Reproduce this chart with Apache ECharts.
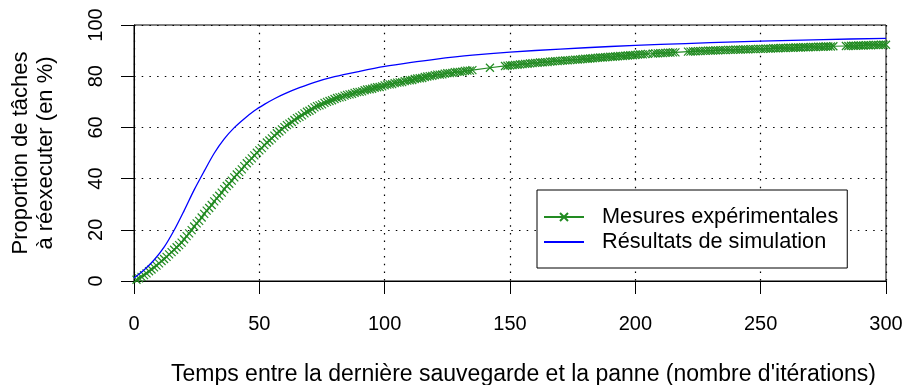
<!DOCTYPE html>
<html>
<head>
<meta charset="utf-8">
<script src="https://cdn.jsdelivr.net/npm/echarts@6/dist/echarts.min.js"></script>
<style>
  html, body { margin: 0; padding: 0; background: #fff; }
  #chart { width: 907px; height: 385px; }
</style>
</head>
<body>
<div id="chart"></div>
<script>
// Measured share of tasks to re-execute vs. iterations since last checkpoint
const mesuresX = [
  1, 2, 3, 4, 5, 6, 7, 8, 9, 10, 11, 12, 13, 14, 15, 16, 17, 18, 19, 20,
  21, 22, 23, 24, 25, 26, 27, 28, 29, 30, 31, 32, 33, 34, 35, 36, 37, 38, 39, 40,
  41, 42, 43, 44, 45, 46, 47, 48, 49, 50, 51, 52, 53, 54, 55, 56, 57, 58, 59, 60,
  61, 62, 63, 64, 65, 66, 67, 68, 69, 70, 71, 72, 73, 74, 75, 76, 77, 78, 79, 80,
  81, 82, 83, 84, 85, 86, 87, 88, 89, 90, 91, 92, 93, 94, 95, 96, 97, 98, 99, 100,
  101, 102, 103, 104, 105, 106, 107, 108, 109, 110, 111, 112, 113, 114, 115, 116, 117, 118, 119, 120,
  121, 122, 123, 124, 125, 126, 127, 128, 129, 130, 131, 132, 133, 134, 135, 142, 148, 149, 150, 151,
  152, 153, 154, 155, 156, 157, 158, 159, 160, 161, 162, 163, 164, 165, 166, 167, 168, 169, 170, 171,
  172, 173, 174, 175, 176, 177, 178, 179, 180, 181, 182, 183, 184, 185, 186, 187, 188, 189, 190, 191,
  192, 193, 194, 195, 196, 197, 198, 199, 200, 201, 202, 203, 204, 205, 207, 208, 209, 210, 211, 212,
  213, 214, 215, 216, 221, 222, 223, 224, 225, 226, 227, 228, 229, 230, 231, 232, 233, 234, 235, 236,
  237, 238, 239, 240, 241, 242, 243, 244, 245, 246, 247, 248, 249, 250, 251, 252, 253, 254, 255, 256,
  257, 258, 259, 260, 261, 262, 263, 264, 265, 266, 267, 268, 269, 270, 271, 272, 273, 274, 275, 276,
  277, 278, 279, 284, 285, 286, 287, 288, 289, 290, 291, 292, 293, 294, 295, 296, 297, 298, 299, 300
];
const mesuresY = [
  0.5, 1.0, 1.6, 2.3, 3.0, 3.8, 4.5, 5.3, 6.0, 6.9, 7.8, 8.6, 9.4, 10.4, 11.3, 12.2, 13.2, 14.0, 15.0, 16.3,
  17.5, 18.6, 19.9, 21.3, 22.5, 23.5, 24.8, 26.2, 27.5, 28.5, 29.7, 31.1, 32.3, 33.3, 34.5, 35.9, 37.1, 38.0, 39.2, 40.5,
  41.6, 42.5, 43.6, 44.9, 46.0, 46.9, 47.9, 49.1, 50.1, 51.0, 51.9, 53.1, 54.1, 54.9, 55.7, 56.8, 57.7, 58.4, 59.2, 60.1,
  60.9, 61.5, 62.1, 62.9, 63.6, 64.1, 64.7, 65.5, 66.1, 66.5, 67.1, 67.8, 68.3, 68.6, 69.0, 69.6, 70.0, 70.3, 70.6, 71.1,
  71.5, 71.7, 71.9, 72.4, 72.7, 72.9, 73.1, 73.5, 73.8, 73.9, 74.1, 74.5, 74.8, 74.9, 75.1, 75.5, 75.7, 75.8, 76.0, 76.4,
  76.7, 76.8, 76.9, 77.3, 77.5, 77.6, 77.7, 78.1, 78.3, 78.4, 78.5, 78.9, 79.1, 79.2, 79.3, 79.7, 79.9, 80.0, 80.1, 80.4,
  80.6, 80.6, 80.7, 81.0, 81.2, 81.2, 81.3, 81.6, 81.7, 81.7, 81.8, 82.1, 82.2, 82.2, 82.4, 83.3, 84.0, 84.1, 84.2, 84.3,
  84.4, 84.4, 84.6, 84.7, 84.8, 84.8, 85.0, 85.1, 85.2, 85.2, 85.4, 85.4, 85.5, 85.5, 85.7, 85.8, 85.9, 85.9, 86.0, 86.1,
  86.2, 86.2, 86.3, 86.4, 86.5, 86.5, 86.6, 86.7, 86.8, 86.8, 86.9, 87.0, 87.1, 87.2, 87.3, 87.3, 87.4, 87.5, 87.6, 87.6,
  87.7, 87.8, 87.9, 87.9, 88.0, 88.1, 88.2, 88.2, 88.3, 88.4, 88.5, 88.5, 88.6, 88.7, 88.8, 88.9, 88.9, 89.0, 89.0, 89.1,
  89.2, 89.2, 89.3, 89.3, 89.6, 89.6, 89.7, 89.7, 89.8, 89.8, 89.9, 89.9, 90.0, 90.0, 90.0, 90.1, 90.1, 90.2, 90.2, 90.2,
  90.3, 90.3, 90.3, 90.4, 90.4, 90.4, 90.5, 90.5, 90.5, 90.6, 90.6, 90.6, 90.7, 90.7, 90.7, 90.8, 90.8, 90.8, 90.9, 90.9,
  90.9, 91.0, 91.0, 91.0, 91.1, 91.1, 91.1, 91.2, 91.2, 91.2, 91.3, 91.3, 91.3, 91.4, 91.4, 91.4, 91.5, 91.5, 91.5, 91.6,
  91.6, 91.6, 91.7, 91.8, 91.8, 91.9, 91.9, 91.9, 92.0, 92.0, 92.0, 92.1, 92.1, 92.1, 92.2, 92.2, 92.2, 92.3, 92.3, 92.3
];

// Simulated curve
const simulationX = [
  0, 4, 8, 12, 16, 20, 24, 28, 32, 36, 40, 44, 48, 52, 56, 60, 66, 72, 80, 90,
  100, 110, 120, 135, 150, 170, 190, 210, 230, 250, 275, 300
];
const simulationY = [
  1.2, 4.3, 8.2, 13.2, 19.8, 27.5, 35.6, 42.9, 49.9, 55.5, 59.9, 63.4, 66.5, 69.0, 71.2, 73.1, 75.5, 77.6, 79.8, 81.9,
  83.8, 85.3, 86.6, 88.2, 89.4, 90.6, 91.6, 92.4, 93.1, 93.7, 94.3, 94.8
];

const xTicks = [0, 50, 100, 150, 200, 250, 300];
const yTicks = [0, 20, 40, 60, 80, 100];

const seriesNames = ['Mesures expérimentales', 'Résultats de simulation'];
const xTitle = "Temps entre la dernière sauvegarde et la panne (nombre d'itérations)";
const yTitle = 'Proportion de tâches\nà réexecuter (en %)';

const FONT = '"Liberation Sans", Arial, Helvetica, sans-serif';
const GREEN = '#228B22';
const BLUE = '#0000FF';
const CROSS = 'path://M0,0L10,10M10,0L0,10';

const zip = (xs, ys) => xs.map((x, i) => [x, ys[i]]);

const chart = echarts.init(document.getElementById('chart'), null, { renderer: 'canvas' });

const gridDots = { color: '#000', width: 1.2, type: [1.5, 6.2] };

chart.setOption({
  animation: false,
  backgroundColor: '#fff',
  grid: {
    left: 134, right: 21, top: 25, bottom: 104,
    outerBoundsMode: 'none', containLabel: false,
    show: true, borderColor: '#000', borderWidth: 1, backgroundColor: 'transparent'
  },
  xAxis: {
    type: 'value',
    min: xTicks[0], max: xTicks[xTicks.length - 1], interval: xTicks[1] - xTicks[0],
    name: xTitle, nameLocation: 'middle', nameGap: 82,
    nameTextStyle: { fontFamily: FONT, fontSize: 23, color: '#000', padding: [0, 0, 0, 27] },
    axisLine: { show: true, lineStyle: { color: '#000', width: 1 } },
    axisTick: { show: true, length: 13, lineStyle: { color: '#000' } },
    axisLabel: { fontFamily: FONT, fontSize: 20, color: '#000', margin: 33 },
    splitLine: { show: true, lineStyle: gridDots }
  },
  yAxis: {
    type: 'value',
    min: yTicks[0], max: yTicks[yTicks.length - 1], interval: yTicks[1] - yTicks[0],
    name: yTitle, nameLocation: 'middle', nameGap: 76, nameRotate: 90,
    nameTextStyle: { fontFamily: FONT, fontSize: 22, color: '#000', lineHeight: 25, align: 'center' },
    axisLine: { show: true, lineStyle: { color: '#000', width: 1 } },
    axisTick: { show: true, length: 13, lineStyle: { color: '#000' } },
    axisLabel: { fontFamily: FONT, fontSize: 20, color: '#000', rotate: 90, margin: 38, verticalAlign: 'middle', align: 'center' },
    splitLine: { show: true, lineStyle: gridDots }
  },
  legend: {
    orient: 'vertical',
    left: 537, top: 190,
    data: [
      { name: seriesNames[0] },
      { name: seriesNames[1], itemStyle: { color: 'transparent', borderWidth: 0 } }
    ],
    backgroundColor: '#fff',
    borderColor: '#000', borderWidth: 1,
    padding: [16, 9, 15, 6],
    itemGap: 3,
    itemWidth: 40, itemHeight: 10,
    textStyle: { fontFamily: FONT, fontSize: 21.7, color: '#000', padding: [0, 0, 0, 13] }
  },
  series: [
    {
      name: seriesNames[0],
      type: 'line',
      data: zip(mesuresX, mesuresY),
      symbol: CROSS,
      symbolSize: 8,
      showSymbol: true,
      lineStyle: { color: GREEN, width: 1.2 },
      itemStyle: { color: 'transparent', borderColor: GREEN, borderWidth: 1.2 },
      z: 3
    },
    {
      name: seriesNames[1],
      type: 'line',
      data: zip(simulationX, simulationY),
      symbol: 'none',
      smooth: 0.3,
      lineStyle: { color: BLUE, width: 1.3 },
      itemStyle: { color: BLUE },
      z: 4
    }
  ]
});
</script>
</body>
</html>
